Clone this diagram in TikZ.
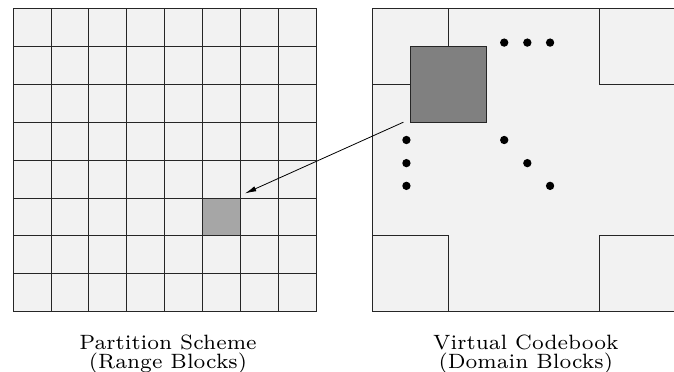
\documentclass[tikz,border=0pt]{standalone}
\usepackage{tikz}
\usetikzlibrary{arrows.meta}

\definecolor{cellfill}{gray}{0.95}
\definecolor{rangefill}{gray}{0.65}
\definecolor{domainfill}{gray}{0.5}

\tikzset{
    blockline/.style={draw=black!85, line width=0.6pt},
    caption/.style={scale=2.22, align=center, inner sep=0pt, font=\fontsize{7}{5.0}\selectfont},
    dot/.style={fill=black}
}

\begin{document}
\begin{tikzpicture}[>={Latex[length=3mm,width=1.4mm]}]

                \useasboundingbox (-0.343,-1.59) rectangle (17.44,8.224);

                % partition of the image into range blocks
                \fill[cellfill] (0,0) rectangle (8,8);
                \fill[rangefill] (5,2) rectangle (6,3);
                \draw[blockline] (0,0) grid (8,8);
                \draw[blockline] (0,0) rectangle (8,8);
                \coordinate (rangeblock) at (6.12,3.12);

                % virtual codebook of domain blocks
                \begin{scope}[xshift=9.48cm]
                    \fill[cellfill] (0,0) rectangle (8,8);
                    \draw[blockline] (0,0) rectangle (8,8);
                    \draw[blockline] (0,6) -- (2,6) -- (2,8);
                    \draw[blockline] (6,8) -- (6,6) -- (8,6);
                    \draw[blockline] (0,2) -- (2,2) -- (2,0);
                    \draw[blockline] (6,0) -- (6,2) -- (8,2);
                    \draw[blockline, fill=domainfill] (1,5) rectangle (3,7);
                    \coordinate (domainblock) at (0.82,5.0);

                    \foreach \t in {3.48,4.09,4.69} {
                        \fill[dot] (\t,7.1) circle (0.11);
                        \fill[dot] (0.9,8-\t+0.01) circle (0.11);
                        \fill[dot] (\t,8-\t+0.01) circle (0.11);
                    }
                \end{scope}

                \draw[->, line width=0.6pt] (domainblock) -- (rangeblock);

                \node[caption, anchor=north] (partition) at (4.09,-0.6)
                    {Partition Scheme\\(Range Blocks)};
                \node[caption, anchor=north] (codebook) at (13.53,-0.6)
                    {Virtual Codebook\\(Domain Blocks)};

            \end{tikzpicture}
\end{document}
